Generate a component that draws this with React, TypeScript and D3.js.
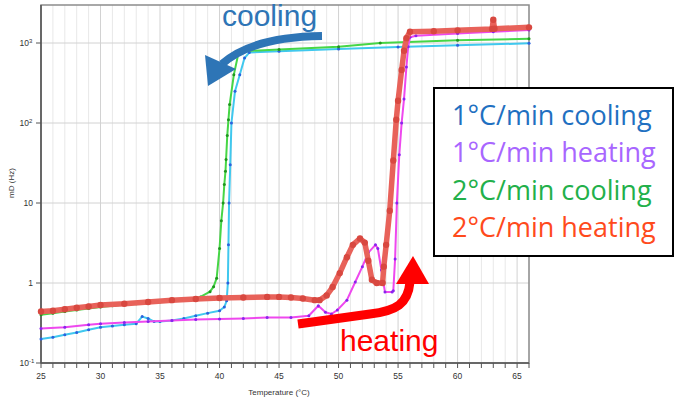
import * as d3 from "d3";

const W = 674;
const H = 401;
const PL = { left: 41, right: 529, top: 5, bottom: 363 };

const X_MAJOR = [25, 30, 35, 40, 45, 50, 55, 60, 65];
const X_MINOR = d3.range(25, 67, 1);
const Y_TICKS = [0.1, 1, 10, 100, 1000];
const Y_BASE = ["10", "1", "10", "10", "10"];
const Y_EXP = ["-1", "", "", "2", "3"];

// 1°C/min cooling
const cool1T = [25, 26, 27, 28, 29, 30, 31, 32, 33, 33.5, 34, 34.5, 35, 36, 37, 38, 39, 40, 40.4, 40.6, 40.7, 40.75, 40.8, 40.9, 41.0, 41.3, 41.7, 42.1, 42.5, 45, 50, 55, 60, 66];
const cool1V = [0.2, 0.21, 0.225, 0.24, 0.26, 0.28, 0.29, 0.3, 0.31, 0.38, 0.36, 0.33, 0.33, 0.34, 0.36, 0.39, 0.42, 0.45, 0.5, 0.6, 1.0, 3, 10, 30, 100, 250, 400, 650, 760, 790, 840, 890, 940, 990];

// 2°C/min cooling
const cool2T = [25, 26, 27, 28, 29, 30, 31, 32, 33, 34, 35, 36, 37, 37.3, 38.4, 39.2, 39.5, 39.76, 40.0, 40.15, 40.3, 40.4, 40.5, 40.55, 40.65, 40.75, 40.85, 41.2, 41.6, 42, 45, 50, 53.5, 60, 66];
const cool2V = [0.4, 0.42, 0.44, 0.46, 0.48, 0.5, 0.52, 0.54, 0.55, 0.57, 0.58, 0.6, 0.62, 0.62, 0.67, 0.78, 0.9, 1.15, 2.7, 6, 10, 17, 25, 35, 70, 110, 170, 400, 760, 790, 830, 900, 1000, 1080, 1130];

// 1°C/min heating
const heat1T = [25, 27, 29, 30, 32, 34, 36, 38, 40, 42, 44, 46, 47.5, 48.3, 48.9, 49.4, 49.9, 50.7, 51.4, 52.0, 52.5, 53.1, 53.3, 53.6, 53.9, 54.5, 54.6, 54.75, 54.9, 55.1, 55.3, 55.5, 55.7, 55.85, 56.0, 56.5, 60, 63, 66];
const heat1V = [0.27, 0.28, 0.3, 0.31, 0.32, 0.33, 0.34, 0.35, 0.355, 0.36, 0.37, 0.37, 0.39, 0.52, 0.43, 0.41, 0.46, 0.61, 1.03, 1.6, 2.4, 3.0, 2.7, 1.45, 0.77, 0.77, 0.8, 2, 10, 40, 100, 200, 500, 900, 1180, 1230, 1310, 1380, 1450];

// 2°C/min heating
const heat2T = [25, 26, 27, 28, 29, 30, 32, 34, 36, 38, 40, 42, 44, 45, 46, 47, 48, 48.4, 49.0, 49.5, 50.1, 50.7, 51.2, 51.8, 52.2, 52.5, 52.8, 53.2, 53.7, 53.8, 54.0, 54.3, 54.6, 54.85, 55.0, 55.3, 55.5, 55.7, 56.0, 58, 60, 62.9, 63.0, 63.1, 66];
const heat2V = [0.44, 0.45, 0.47, 0.49, 0.51, 0.53, 0.55, 0.58, 0.61, 0.63, 0.65, 0.66, 0.67, 0.67, 0.66, 0.64, 0.61, 0.61, 0.7, 0.89, 1.33, 2.1, 3.0, 3.6, 3.2, 1.9, 1.1, 1.0, 1.0, 1.6, 3, 8, 34, 110, 190, 460, 800, 1150, 1380, 1400, 1440, 1500, 1950, 1510, 1570];

const LEGEND_NAMES = ["1°C/min cooling", "1°C/min heating", "2°C/min cooling", "2°C/min heating"];
const LEGEND_COLORS = ["#1f70c1", "#a866ff", "#22b04a", "#ff4a1c"];

type Series = { t: number[]; v: number[]; line: string; dot: string; width: number; r: number };

const SERIES: Series[] = [
  { t: cool1T, v: cool1V, line: "#40c8ee", dot: "#2a62de", width: 2, r: 1.5 },
  { t: cool2T, v: cool2V, line: "#46d646", dot: "#1f961f", width: 2, r: 1.5 },
  { t: heat1T, v: heat1V, line: "#ee48ee", dot: "#8a24ee", width: 2, r: 1.5 },
  { t: heat2T, v: heat2V, line: "#e8625a", dot: "#d84840", width: 5.5, r: 3.2 },
];

export default function App() {
  const x = d3.scaleLinear().domain([25, 66]).range([PL.left, PL.right]);
  const y = d3.scaleLog().domain([0.1, Math.pow(10, 3.475)]).range([PL.bottom, PL.top]);

  const line = d3
    .line<[number, number]>()
    .x((d) => x(d[0]))
    .y((d) => y(d[1]));

  const font = "'Liberation Sans', Arial, sans-serif";

  return (
    <svg width={W} height={H} style={{ position: "absolute", left: 0, top: 0, background: "#fff" }}>
      {/* grid */}
      {X_MINOR.map((t) => (
        <line key={"gx" + t} x1={x(t)} x2={x(t)} y1={PL.top} y2={PL.bottom}
          stroke={t % 5 === 0 ? "#d2d2d2" : "#e8e8e8"} strokeWidth={1} />
      ))}
      {Y_TICKS.map((v) => (
        <line key={"gy" + v} x1={PL.left} x2={PL.right} y1={y(v)} y2={y(v)} stroke="#d2d2d2" strokeWidth={1} />
      ))}

      {/* frame */}
      <rect x={PL.left} y={PL.top} width={PL.right - PL.left} height={PL.bottom - PL.top}
        fill="none" stroke="#8c8c8c" strokeWidth={1.5} />
      <line x1={PL.left} x2={PL.left} y1={PL.top} y2={PL.bottom} stroke="#555" strokeWidth={1.5} />
      <line x1={PL.left} x2={PL.right} y1={PL.bottom} y2={PL.bottom} stroke="#555" strokeWidth={1.5} />

      {/* x ticks */}
      {X_MINOR.map((t) => (
        <line key={"tx" + t} x1={x(t)} x2={x(t)} y1={PL.bottom} y2={PL.bottom + 5} stroke="#555" strokeWidth={1} />
      ))}
      {X_MAJOR.map((t) => (
        <text key={"lx" + t} x={x(t)} y={379} textAnchor="middle" fontSize={8.5} fill="#333" fontFamily={font}>
          {t}
        </text>
      ))}
      <text x={279} y={395} textAnchor="middle" fontSize={8} fill="#333" fontFamily={font}>
        Temperature (°C)
      </text>

      {/* y ticks */}
      {Y_TICKS.map((v, i) => (
        <g key={"ty" + v}>
          <line x1={PL.left - 5} x2={PL.left} y1={y(v)} y2={y(v)} stroke="#555" strokeWidth={1} />
          <text x={Y_EXP[i] ? 29 : 33} y={y(v) + 3} textAnchor="end" fontSize={8.5} fill="#333" fontFamily={font}>
            {Y_BASE[i]}
          </text>
          {Y_EXP[i] && (
            <text x={29} y={y(v) - 0.5} fontSize={6} fill="#333" fontFamily={font}>
              {Y_EXP[i]}
            </text>
          )}
        </g>
      ))}
      <text transform={`translate(14,183) rotate(-90)`} textAnchor="middle" fontSize={8} fill="#333" fontFamily={font}>
        mD (Hz)
      </text>

      {/* data */}
      {SERIES.map((s, i) => {
        const pts = s.t.map((t, j) => [t, s.v[j]] as [number, number]);
        return (
          <g key={"s" + i}>
            <path d={line(pts) ?? ""} fill="none" stroke={s.line} strokeWidth={s.width} strokeLinejoin="round" />
            {pts.map((p, j) => (
              <circle key={j} cx={x(p[0])} cy={y(p[1])} r={s.r} fill={s.dot} />
            ))}
          </g>
        );
      })}

      {/* cooling annotation */}
      <text x={222} y={26} fontSize={30} fill="#2e75b6" fontFamily={font}>cooling</text>
      <path d="M322,36 Q252,37 222,64" fill="none" stroke="#2e75b6" strokeWidth={8} />
      <polygon points="205,55 236,69 208,86" fill="#2e75b6" />

      {/* heating annotation */}
      <text x={340} y={351} fontSize={30} fill="#ff0000" fontFamily={font}>heating</text>
      <path d="M298,324 L370,314 C396,311 408,304 410,282" fill="none" stroke="#ff0000" strokeWidth={9} />
      <polygon points="396,284 413,256 429,284" fill="#ff0000" />

      {/* legend */}
      <rect x={434} y={88} width={239} height={168} fill="#fff" stroke="#000" strokeWidth={2} />
      {LEGEND_NAMES.map((n, i) => (
        <text key={n} x={452} y={125 + i * 37.3} fontSize={27} fill={LEGEND_COLORS[i]}
          fontFamily="'Open Sans', 'Noto Sans', sans-serif">
          {n}
        </text>
      ))}
    </svg>
  );
}
